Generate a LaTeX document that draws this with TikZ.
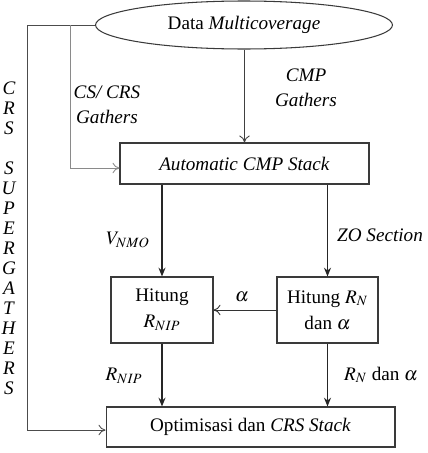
\documentclass[tikz,border=0pt]{standalone}
\usepackage{mathptmx}
\usepackage{fontspec}
\setmainfont{Liberation Serif}
\usepackage{tikz}
\usetikzlibrary{arrows.meta,positioning,calc,shapes.geometric}

\definecolor{boxline}{HTML}{3A3A3A}
\definecolor{thinline}{HTML}{8A8A8A}
\tikzset{
 txt/.style={font=\fontsize{10.9}{13}\selectfont,inner sep=0pt,align=center},
 procbox/.style={draw=boxline,line width=0.6pt,inner sep=0pt,txt},
 downarrow/.style={draw=black!85,line width=0.7pt,-{Stealth[length=5pt,width=4pt]}},
 sidearrow/.style={draw=thinline,line width=0.5pt,-{To[length=4pt,width=6pt]}}
}

\begin{document}
\begin{tikzpicture}[x=0.02cm,y=-0.02cm]
\useasboundingbox (0,0) rectangle (427,453);
% boxes
\node[ellipse,draw=boxline,line width=0.6pt,minimum width=5.94cm,minimum height=0.96cm,txt] (data) at (244,25) {Data \textit{Multicoverage}};
\node[procbox,minimum width=4.98cm,minimum height=0.82cm] (auto) at (244.5,163.5) {\textit{Automatic CMP Stack}};
\node[procbox,minimum width=2.04cm,minimum height=1.32cm] (lhit) at (162,310) {Hitung\\[2pt] $R_{NIP}$};
\node[procbox,minimum width=2.02cm,minimum height=1.32cm] (rhit) at (327.5,310) {Hitung $R_N$\\[2pt] dan $\alpha$};
\node[procbox,minimum width=5.78cm,minimum height=0.8cm] (opt) at (250.5,427) {Optimisasi dan \textit{CRS Stack}};
% connectors
\coordinate (outtop) at (27,25);
\coordinate (outbot) at (27,430);
\coordinate (intop) at (70,25);
\coordinate (inbot) at (70,168);
\draw[draw=black!70,line width=0.5pt,-{To[length=4pt,width=6pt]}] (data.west) -- (outtop) -- (outbot) -- (opt.west |- outbot);
\draw[sidearrow] (intop) -- (inbot) -- (auto.west |- inbot);
\draw[sidearrow,draw=black!75] (data.south -| auto.north) -- (auto.north);
\draw[downarrow] (auto.south -| lhit.north) -- (lhit.north);
\draw[downarrow] (auto.south -| rhit.north) -- (rhit.north);
\draw[sidearrow,draw=black!80] (rhit.west) -- (lhit.east);
\draw[downarrow] (lhit.south) -- (lhit.south |- opt.north);
\draw[downarrow] (rhit.south) -- (rhit.south |- opt.north);
% labels
\node[txt] (lcs) at (107,105) {\textit{CS/ CRS}\\[1pt] \textit{Gathers}};
\node[txt] (lcmp) at (306,88) {\textit{CMP}\\[1pt] \textit{Gathers}};
\node[txt] (lvnmo) at (128,240) {$V_{NMO}$};
\node[txt] (lzo) at (380,235) {\textit{ZO Section}};
\node[txt] (lalpha) at (242,297) {$\alpha$};
\node[txt] (lrnip) at (124,376) {$R_{NIP}$};
\node[txt] (lrn) at (381,375) {$R_N$ dan $\alpha$};
\foreach \l [count=\k from 0] in {C,R,S,{},S,U,P,E,R,G,A,T,H,E,R,S}
 \node[txt] (let\k) at (9,88+20*\k) {\textit{\l}};
\end{tikzpicture}
\end{document}
